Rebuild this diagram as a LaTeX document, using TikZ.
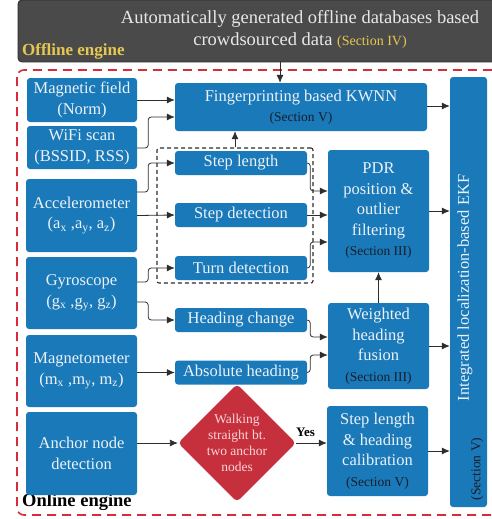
\documentclass[tikz,border=0pt]{standalone}
\usepackage{fontspec}
\setmainfont{Liberation Serif}
\usetikzlibrary{shapes.geometric,arrows.meta}
\definecolor{boxblue}{RGB}{26,121,185}
\definecolor{boxtext}{RGB}{236,242,248}
\definecolor{secdark}{RGB}{24,30,42}
\definecolor{diared}{RGB}{198,47,60}
\definecolor{diatext}{RGB}{248,214,218}
\definecolor{dashred}{RGB}{212,46,60}
\definecolor{graybg}{RGB}{74,74,74}
\definecolor{grayline}{RGB}{40,40,40}
\definecolor{hdryellow}{RGB}{230,200,80}
\definecolor{hdrtext}{RGB}{232,232,232}
\definecolor{linegray}{RGB}{45,45,45}
\tikzset{
  box/.style={fill=boxblue, rounded corners=3pt, text=boxtext, inner sep=0pt, align=center,
    font=\fontsize{16.5}{20.5}\selectfont},
  conn/.style={draw=linegray, line width=0.8pt, rounded corners=3pt, -{Latex[length=8pt,width=7pt]}},
}
\newcommand\sect[1]{{\fontsize{13.5}{20.5}\selectfont\color{secdark}#1}}
\begin{document}
\begin{tikzpicture}[x=1pt,y=-1pt]
\useasboundingbox (0,0) rectangle (491,519);
% offline engine
\node[fill=graybg, draw=grayline, line width=0.8pt, rounded corners=4pt, minimum width=500pt, minimum height=62pt] (offline) at (268,31) {};
\node[text=hdrtext, align=center, font=\fontsize{18.5}{22}\selectfont] (hdr) at (300,29)
  {Automatically generated offline databases based\\crowdsourced data {\fontsize{14}{22}\selectfont\color{hdryellow}(Section IV)}};
\node[anchor=west, text=hdryellow, font=\fontsize{17}{20}\selectfont\bfseries, inner sep=0pt] (offlbl) at (22,51) {Offline engine};
% online engine frame
\draw[dashred, dash pattern=on 9pt off 6pt, line width=1.6pt, rounded corners=7pt] (17,70) rectangle (530,515);
\node[anchor=west, text=black, font=\fontsize{18.5}{20}\selectfont\bfseries, inner sep=0pt] (onlbl) at (22,502) {Online engine};
% left column
\node[box, minimum width=110pt, minimum height=44pt] (mag) at (82,100) {Magnetic field\\(Norm)};
\node[box, minimum width=110pt, minimum height=43pt] (wifi) at (82,147.5) {WiFi scan\\(BSSID, RSS)};
\node[box, minimum width=111pt, minimum height=73pt] (acc) at (81.5,215.5) {Accelerometer\\(a\textsubscript{x} ,a\textsubscript{y}, a\textsubscript{z})};
\node[box, minimum width=111pt, minimum height=72pt] (gyro) at (81.5,293) {Gyroscope\\(g\textsubscript{x} ,g\textsubscript{y}, g\textsubscript{z})};
\node[box, minimum width=111pt, minimum height=72pt] (magneto) at (81.5,371) {Magnetometer\\(m\textsubscript{x} ,m\textsubscript{y}, m\textsubscript{z})};
\node[box, minimum width=111pt, minimum height=83pt] (anchor) at (81.5,453.5) {Anchor node\\detection};
% middle column
\node[box, minimum width=252pt, minimum height=48pt] (fp) at (301,107) {Fingerprinting based KWNN\\\sect{(Section V)}};
\node[draw=linegray, dash pattern=on 4pt off 3pt, line width=1.1pt, rounded corners=2pt, minimum width=156pt, minimum height=135pt, inner sep=0pt] (group) at (235,215.5) {};
\node[box, minimum width=132pt, minimum height=24pt] (sl) at (241,163) {Step length};
\node[box, minimum width=132pt, minimum height=24pt] (sd) at (241,215) {Step detection};
\node[box, minimum width=132pt, minimum height=24pt] (td) at (241,268) {Turn detection};
\node[box, minimum width=132pt, minimum height=24pt] (hc) at (241,320) {Heading change};
\node[box, minimum width=132pt, minimum height=24pt] (ah) at (241,372.5) {Absolute heading};
\node[diamond, fill=diared, rounded corners=4pt, minimum width=104pt, minimum height=104pt, inner sep=0pt, text=diatext, align=center, font=\fontsize{13.5}{16}\selectfont] (dia) at (237,443) {Walking\\straight bt.\\two anchor\\nodes};
% right column
\node[box, minimum width=101pt, minimum height=122pt] (pdr) at (378.5,211) {PDR\\position \&\\outlier\\filtering\\\sect{(Section III)}};
\node[box, minimum width=101pt, minimum height=86pt] (whf) at (378.5,346) {Weighted\\heading\\fusion\\\sect{(Section III)}};
\node[box, minimum width=101pt, minimum height=90pt] (cal) at (377.5,451) {Step length\\\& heading\\calibration\\\sect{(Section V)}};
\node[box, minimum width=37pt, minimum height=430pt] (ekf) at (468.5,292) {};
\node[rotate=90, text=boxtext, font=\fontsize{16.5}{20}\selectfont, inner sep=0pt] (ekft) at (465,288) {Integrated localization-based EKF};
\node[rotate=90, text=secdark, font=\fontsize{13.5}{20}\selectfont, inner sep=0pt] (ekfs) at (477,469) {(Section V)};
% connectors
\path ([xshift=-21pt]fp.north) coordinate (fpin);
\path ([yshift=1pt]fp.east) coordinate (fpout);
\draw[conn] (offline.south -| fpin) -- (fpin);
\draw[conn] (mag.east) -- (fp.west |- mag.east);
\draw[conn] ([yshift=-0.5pt]wifi.east) -- ++(11,0) |- ([yshift=-10pt]fp.west);
\draw[conn] ([yshift=23.5pt]acc.east) -- ++(11,0) |- (sl.west);
\draw[conn] (acc.east) -- (sd.west);
\draw[conn] ([yshift=11pt]gyro.east) -- ++(11,0) |- (td.west);
\draw[conn] ([yshift=-9pt]gyro.east) -- ++(11,0) |- (hc.west);
\draw[conn] (ah.west -| magneto.east) -- (ah.west);
\draw[conn] (sl.east) -- ++(3,0) |- ([yshift=20pt]pdr.west);
\draw[conn] (sd.east) -- (pdr.west |- sd.east);
\draw[conn] (td.east) -- ++(3,0) |- ([yshift=-31pt]pdr.west);
\draw[conn] (hc.east) -- ++(3,0) |- ([yshift=9pt]whf.west);
\draw[conn] (ah.east) -- ++(3,0) |- ([yshift=-9pt]whf.west);
\draw[conn] (whf.north) -- (pdr.south);
\draw[conn] (group.north) -- (group.north |- fp.south);
\draw[conn] (fpout) -- (ekf.west |- fpout);
\draw[conn] (pdr.east) -- (ekf.west |- pdr.east);
\draw[conn] (whf.east) -- (ekf.west |- whf.east);
\draw[conn] (cal.east) -- (ekf.west |- cal.east);
\draw[conn] (anchor.east |- dia.west) -- (dia.west);
\draw[conn] (dia.east) -- (cal.west |- dia.east) node[midway, above=3pt, xshift=-6pt, text=black, font=\fontsize{13}{15}\selectfont\bfseries] {Yes};
\end{tikzpicture}
\end{document}
